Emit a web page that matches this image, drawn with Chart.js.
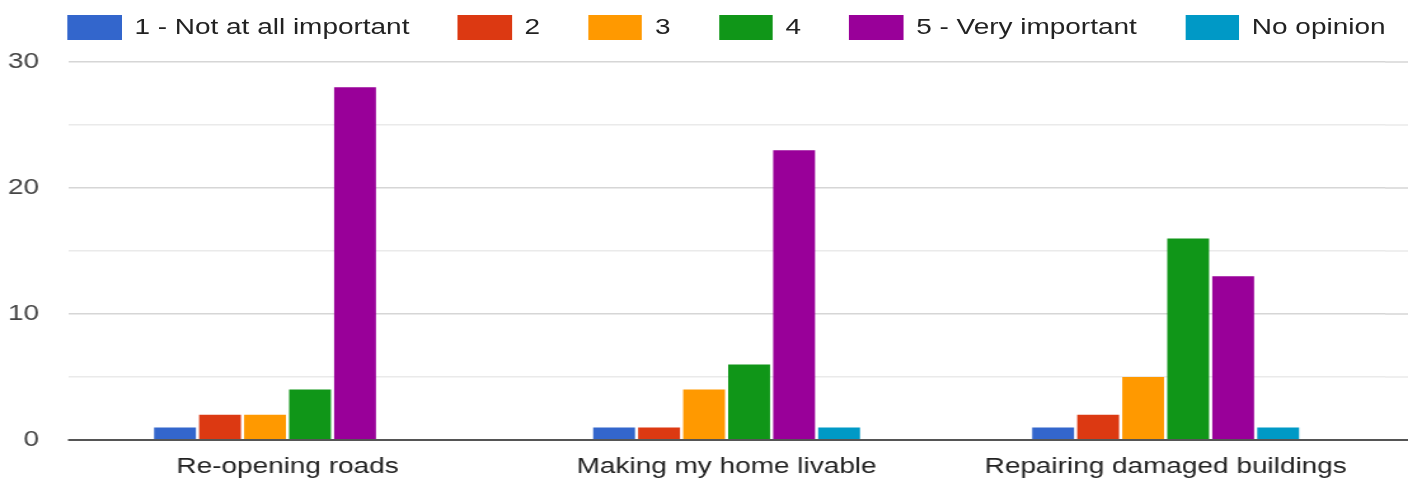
<!DOCTYPE html>
<html>
<head>
<meta charset="utf-8">
<script src="https://cdn.jsdelivr.net/npm/chart.js@4/dist/chart.umd.min.js"></script>
<style>
  html, body { margin: 0; padding: 0; background: #fff; overflow: hidden; }
  /* the reference is stretched sideways, so the whole chart is drawn narrow and scaled */
  #wrap {
    position: relative; width: 1108px; height: 481px;
    transform: scaleX(1.2708); transform-origin: 0 0;
  }
  #legend {
    position: absolute; left: 53.5px; width: 1036.5px; top: 14px; height: 26px;
    display: flex; justify-content: center; align-items: center;
    font: 22px "Liberation Sans", Arial, sans-serif; color: #222; white-space: nowrap;
  }
  .item { display: flex; align-items: center; margin: 0 19px; }
  .box { width: 42.5px; height: 25px; margin-right: 10px; }
  canvas { position: absolute; left: 0; top: 0; }
</style>
</head>
<body>
<div id="wrap">
  <div id="legend"></div>
  <canvas id="chart" width="1108" height="481" style="width:1108px;height:481px"></canvas>
</div>
<script>
const categories = ['Re-opening roads', 'Making my home livable', 'Repairing damaged buildings'];
const seriesNames = ['1 - Not at all important', '2', '3', '4', '5 - Very important', 'No opinion'];
const notAtAll = [1, 1, 1];
const two = [2, 1, 2];
const three = [2, 4, 5];
const four = [4, 6, 16];
const veryImportant = [28, 23, 13];
const noOpinion = [0, 1, 1];
const yTicks = [0, 10, 20, 30];

const colors = ['#3366cc', '#dc3912', '#ff9900', '#109618', '#990099', '#0099c6'];
const seriesValues = [notAtAll, two, three, four, veryImportant, noOpinion];
const majorGrid = '#d6d6d6';
const minorGrid = '#eaeaea';
const font = "'Liberation Sans', Arial, sans-serif";

// html legend
const legendEl = document.getElementById('legend');
seriesNames.forEach((name, i) => {
    const item = document.createElement('div');
    item.className = 'item';
    item.innerHTML = '<div class="box" style="background:' + colors[i] + '"></div><span>' + name + '</span>';
    legendEl.appendChild(item);
});

// grid lines run on past the plot to the right edge, baseline on top of bars
const gridExtend = {
    id: 'gridExtend',
    beforeDatasetsDraw(chart) {
        const {ctx, chartArea, scales: {y}} = chart;
        ctx.save();
        ctx.lineWidth = 1.5;
        y.ticks.forEach(t => {
            const py = y.getPixelForValue(t.value);
            ctx.strokeStyle = t.value % 10 === 0 ? majorGrid : minorGrid;
            ctx.beginPath();
            ctx.moveTo(chartArea.right, py);
            ctx.lineTo(chart.width, py);
            ctx.stroke();
        });
        ctx.restore();
    },
    afterDatasetsDraw(chart) {
        const {ctx, chartArea, scales: {y}} = chart;
        const py = y.getPixelForValue(0);
        ctx.save();
        ctx.strokeStyle = '#555';
        ctx.lineWidth = 2;
        ctx.beginPath();
        ctx.moveTo(chartArea.left, py);
        ctx.lineTo(chart.width, py);
        ctx.stroke();
        ctx.restore();
    }
};

new Chart(document.getElementById('chart').getContext('2d'), {
    type: 'bar',
    data: {
        labels: categories,
        datasets: seriesNames.map((name, i) => ({
            label: name,
            data: seriesValues[i],
            backgroundColor: colors[i],
            borderWidth: 0,
            categoryPercentage: 0.615,
            barPercentage: 0.93
        }))
    },
    options: {
        responsive: false,
        animation: false,
        devicePixelRatio: 1,
        layout: { padding: { top: 62, right: 18, left: 0, bottom: 0 } },
        plugins: {
            legend: { display: false },
            tooltip: { enabled: false }
        },
        scales: {
            x: {
                grid: { display: false },
                border: { display: false },
                ticks: { font: { family: font, size: 22 }, color: '#222', padding: 6, maxRotation: 0 },
                afterFit: scale => { scale.height = 41; }
            },
            y: {
                min: 0,
                max: 30,
                ticks: {
                    stepSize: 5,
                    padding: 22.8,
                    font: { family: font, size: 22 },
                    color: '#444',
                    callback: v => yTicks.includes(v) ? v : ''
                },
                grid: {
                    drawTicks: false,
                    lineWidth: 1.5,
                    color: c => c.tick && c.tick.value % 10 === 0 ? majorGrid : minorGrid
                },
                border: { display: false },
                afterFit: scale => { scale.width = 53.5; }
            }
        }
    },
    plugins: [gridExtend]
});
</script>
</body>
</html>
